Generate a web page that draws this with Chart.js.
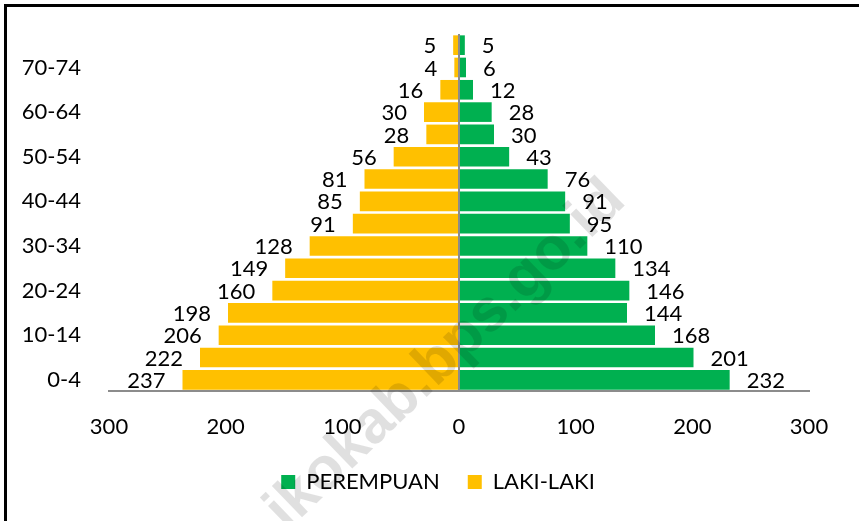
<!DOCTYPE html>
<html>
<head>
<meta charset="utf-8">
<script src="https://cdn.jsdelivr.net/npm/chart.js@4"></script>
<style>
  html, body { margin: 0; padding: 0; background: #fff; }
  #frame {
    position: absolute; left: 4px; top: 4px;
    width: 855px; height: 517px;
    border-left: 3px solid #000; border-top: 3px solid #000;
  }
  canvas { display: block; }
</style>
</head>
<body>
<div id="frame"><canvas id="piramida" width="852" height="514"></canvas></div>
<script>
// piramida penduduk: kelompok umur dari bawah (0-4) ke atas (75+)
const kelompokUmur = ['0-4', '5-9', '10-14', '15-19', '20-24', '25-29', '30-34', '35-39',
  '40-44', '45-49', '50-54', '55-59', '60-64', '65-69', '70-74', '75+'];
const lakiLaki  = [237, 222, 206, 198, 160, 149, 128, 91, 85, 81, 56, 28, 30, 16, 4, 5];
const perempuan = [232, 201, 168, 144, 146, 134, 110, 95, 91, 76, 43, 30, 28, 12, 6, 5];
const tickX = [-300, -200, -100, 0, 100, 200, 300];

const WARNA = { perempuan: '#00B050', laki: '#FFC000', sumbu: '#8c8c8c' };
const FONT = { family: 'Lato', size: 22 };

// label angka di ujung batang
const labelNilai = {
  id: 'labelNilai',
  afterDatasetsDraw(chart) {
    const ctx = chart.ctx;
    ctx.save();
    ctx.font = `${FONT.size}px ${FONT.family}`;
    ctx.fillStyle = '#000';
    ctx.textBaseline = 'middle';
    chart.data.datasets.forEach((ds, i) => {
      chart.getDatasetMeta(i).data.forEach((bar, j) => {
        const v = ds.data[j];
        if (v < 0) { ctx.textAlign = 'right'; ctx.fillText(String(-v), bar.x - 17, bar.y + 1); }
        else { ctx.textAlign = 'left'; ctx.fillText(String(v), bar.x + 17, bar.y + 1); }
      });
    });
    ctx.restore();
  }
};

// legenda sedikit digeser ke kanan seperti aslinya
const geserLegenda = {
  id: 'geserLegenda',
  afterLayout(chart) {
    if (chart.legend) { chart.legend.left += 30; chart.legend.right += 30; }
  }
};

// watermark miring
const watermark = {
  id: 'watermark',
  afterDraw(chart) {
    const ctx = chart.ctx;
    ctx.save();
    ctx.translate(609, 184);
    ctx.rotate(-44 * Math.PI / 180);
    ctx.font = 'bold 60px "Liberation Sans"';
    ctx.fillStyle = 'rgba(0,0,0,0.12)';
    ctx.textAlign = 'right';
    ctx.textBaseline = 'middle';
    ctx.fillText('ikokab.bps.go.id', 0, 0);
    ctx.restore();
  }
};

new Chart(document.getElementById('piramida'), {
  type: 'bar',
  data: {
    labels: kelompokUmur,
    datasets: [
      { label: 'PEREMPUAN', data: perempuan, backgroundColor: WARNA.perempuan, borderWidth: 0,
        barPercentage: 0.88, categoryPercentage: 1 },
      { label: 'LAKI-LAKI', data: lakiLaki.map(v => -v), backgroundColor: WARNA.laki, borderWidth: 0,
        barPercentage: 0.88, categoryPercentage: 1 }
    ]
  },
  options: {
    indexAxis: 'y',
    responsive: false,
    animation: false,
    devicePixelRatio: 1,
    layout: { padding: { top: 27, right: 50, left: 0, bottom: 18 } },
    plugins: {
      legend: {
        position: 'bottom',
        labels: { boxWidth: 14, boxHeight: 14, padding: 28, color: '#000', font: FONT }
      },
      tooltip: { enabled: false }
    },
    scales: {
      x: {
        stacked: true,
        min: -300, max: 300,
        afterBuildTicks: s => { s.ticks = tickX.map(v => ({ value: v })); },
        afterFit: s => { s.height = 52; },
        ticks: { color: '#000', font: FONT, padding: 23, callback: v => Math.abs(v) },
        grid: {
          drawTicks: false,
          color: c => (c.tick && c.tick.value === 0 ? WARNA.sumbu : 'rgba(0,0,0,0)'),
          lineWidth: 2
        },
        border: { display: true, color: WARNA.sumbu, width: 2 }
      },
      y: {
        stacked: true,
        reverse: true,
        afterFit: s => { s.width = 102; s.paddingTop = 0; s.paddingBottom = 0; },
        ticks: {
          color: '#000', font: FONT, padding: 20, autoSkip: false,
          callback: (v, i) => (i % 2 === 0 ? kelompokUmur[i] : '')
        },
        grid: { display: false },
        border: { display: false }
      }
    }
  },
  plugins: [labelNilai, geserLegenda, watermark]
});
</script>
</body>
</html>
